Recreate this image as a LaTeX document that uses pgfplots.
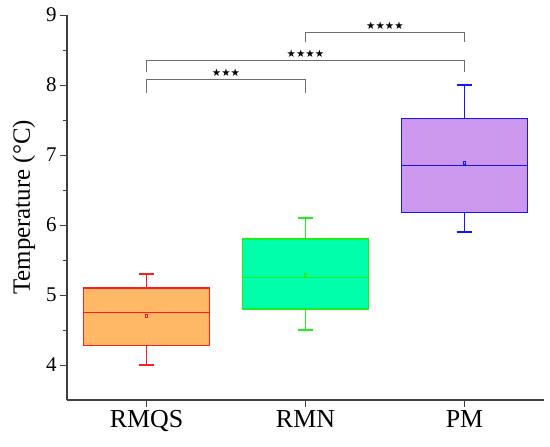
\documentclass[border=0pt]{standalone}
\usepackage{pgfplots}
\pgfplotsset{compat=1.18}
\usepgfplotslibrary{statistics}
\usepackage{fontspec}
\setmainfont{Liberation Serif}
\newfontfamily\symfont{DejaVu Sans}
\definecolor{fillA}{RGB}{255,184,102}
\definecolor{edgeA}{RGB}{255,30,30}
\definecolor{fillB}{RGB}{0,255,170}
\definecolor{edgeB}{RGB}{30,240,30}
\definecolor{fillC}{RGB}{204,152,238}
\definecolor{edgeC}{RGB}{20,20,255}
\definecolor{axgray}{RGB}{64,64,64}
\definecolor{brgray}{RGB}{110,110,110}
\begin{document}
\begin{tikzpicture}
\begin{axis}[
  scale only axis, width=477bp, height=385bp,
  xmin=0.5, xmax=3.5, ymin=3.5, ymax=9,
  axis lines=left,
  axis line style={draw=axgray, line width=1.1pt, -},
  xtick={1,2,3}, xticklabels={RMQS,RMN,PM},
  ytick={4,5,6,7,8,9}, yticklabels={4,5,6,7,8,9}, minor y tick num=1,
  tick align=outside, major tick length=7bp, minor tick length=4bp,
  tick style={axgray, line width=0.9pt},
  x tick label style={font=\rmfamily\fontsize{26}{26}\selectfont},
  y tick label style={font=\rmfamily\fontsize{21}{21}\selectfont},
  /pgf/number format/assume math mode=true,
  ylabel={Temperature (°C)},
  ylabel shift=4bp,
  ylabel style={font=\rmfamily\fontsize{25}{25}\selectfont},
  boxplot/draw direction=y,
  boxplot/box extend=0.79,
  boxplot/whisker extend=0.1,
  boxplot/every average/.style={/tikz/mark=square, /tikz/mark size=1.4pt, /tikz/mark options={line width=0.5pt, fill=none}},
  clip=false,
]
\addplot[draw=edgeA, fill=fillA, line width=1.1pt,
  boxplot prepared={lower whisker=4.0, lower quartile=4.28, median=4.75,
    upper quartile=5.1, upper whisker=5.3, average=4.70, draw position=1}]
  coordinates {};
\addplot[draw=edgeB, fill=fillB, line width=1.1pt,
  boxplot prepared={lower whisker=4.5, lower quartile=4.8, median=5.25,
    upper quartile=5.8, upper whisker=6.1, average=5.28, draw position=2}]
  coordinates {};
\addplot[draw=edgeC, fill=fillC, line width=1.1pt,
  boxplot prepared={lower whisker=5.9, lower quartile=6.18, median=6.85,
    upper quartile=7.52, upper whisker=8.0, average=6.89, draw position=3}]
  coordinates {};
% significance brackets
\addplot[brgray, line width=0.8pt, mark=none] coordinates {(1,7.88) (1,8.08) (2,8.08) (2,7.88)};
\addplot[brgray, line width=0.8pt, mark=none] coordinates {(1,8.18) (1,8.35) (3,8.35) (3,8.18)};
\addplot[brgray, line width=0.8pt, mark=none] coordinates {(2,8.61) (2,8.75) (3,8.75) (3,8.61)};
\node[anchor=south, inner sep=2.5bp, font=\symfont\fontsize{10.5}{10.5}\selectfont] at (axis cs:1.5,8.08) {★★★};
\node[anchor=south, inner sep=2.5bp, font=\symfont\fontsize{10.5}{10.5}\selectfont] at (axis cs:2,8.35) {★★★★};
\node[anchor=south, inner sep=2.5bp, font=\symfont\fontsize{10.5}{10.5}\selectfont] at (axis cs:2.5,8.75) {★★★★};
\end{axis}
\pgfresetboundingbox
\path ([shift={(-67bp,-47bp)}]current axis.south west) rectangle ([shift={(6bp,15bp)}]current axis.north east);
\end{tikzpicture}
\end{document}
